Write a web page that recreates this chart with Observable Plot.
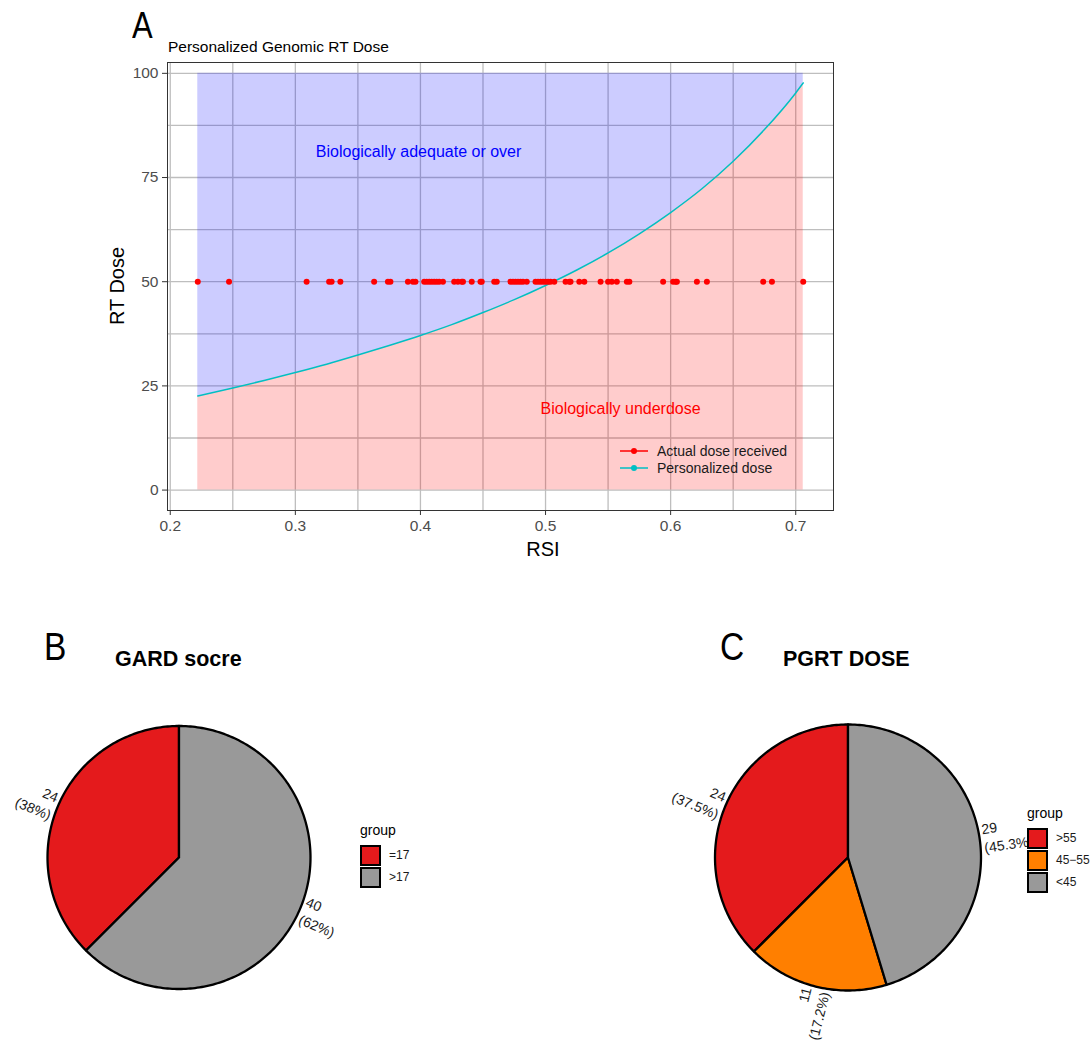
<!DOCTYPE html>
<html>
<head>
<meta charset="utf-8">
<script src="https://cdn.jsdelivr.net/npm/d3@7"></script>
<script src="https://cdn.jsdelivr.net/npm/@observablehq/plot@0.6"></script>
<style>
  html, body { margin: 0; padding: 0; background: #fff; }
  body { font-family: "Liberation Sans", Arial, Helvetica, sans-serif; }
  #wrap { position: relative; width: 1091px; height: 1042px; overflow: hidden; background: #fff; }
  #wrap > * { position: absolute; }
  .txt { white-space: nowrap; line-height: 1; color: #000; }
  .letter { font-size: 37px; transform-origin: 0 0; transform: scaleX(0.86); }
  .ptitle { font-size: 21.5px; font-weight: bold; }
  .legrow { display: flex; align-items: center; font-size: 14px; color: #1a1a1a; height: 17px; }
  .pieleg { background: #fff; }
  .pieleg .gt { font-size: 14px; color: #000; line-height: 1; }
  .pieleg .row { display: flex; align-items: center; height: 22px; font-size: 12px; color: #1a1a1a; }
  .pieleg .key { width: 17px; height: 17px; border: 2px solid #000; margin-right: 8px; }
</style>
</head>
<body>
<div id="wrap"></div>
<script>
// ---------------- data ----------------
// Panel A: RSI of each patient (all received 50 Gy)
const rsiPatients = [
  0.222, 0.247, 0.309, 0.327, 0.329, 0.336, 0.363, 0.374, 0.376, 0.390, 0.394, 0.396,
  0.403, 0.405, 0.407, 0.409, 0.411, 0.413, 0.415, 0.418,
  0.427, 0.430, 0.433, 0.434,
  0.441, 0.448, 0.449, 0.459, 0.461,
  0.472, 0.474, 0.476, 0.478, 0.480, 0.482, 0.485,
  0.492, 0.494, 0.496, 0.498, 0.500, 0.502, 0.504, 0.507,
  0.516, 0.519, 0.520, 0.527, 0.531,
  0.544, 0.550, 0.553, 0.557, 0.565, 0.567,
  0.594, 0.602, 0.604, 0.605, 0.621, 0.629,
  0.674, 0.681, 0.706
];
const actualDoseGy = 50;
// Personalized dose curve
const curveRsi  = [0.222, 0.25, 0.275, 0.3, 0.325, 0.35, 0.375, 0.4, 0.425, 0.45, 0.475, 0.5, 0.525, 0.55, 0.575, 0.6, 0.625, 0.65, 0.675, 0.7, 0.706];
const curveDose = [22.6, 24.5, 26.3, 28.2, 30.2, 32.4, 34.7, 37.1, 39.7, 42.6, 45.7, 49.1, 52.8, 56.9, 61.5, 66.6, 72.3, 78.9, 86.5, 95.3, 97.7];
const xTicks = [0.2, 0.3, 0.4, 0.5, 0.6, 0.7];
const xGrid  = [0.2, 0.25, 0.3, 0.35, 0.4, 0.45, 0.5, 0.55, 0.6, 0.65, 0.7];
const yTicks = [0, 25, 50, 75, 100];
const yGrid  = [0, 12.5, 25, 37.5, 50, 62.5, 75, 87.5, 100];
const legendA = ["Actual dose received", "Personalized dose"];

// Panel B: GARD score
const gardGroups = ["=17", ">17"];
const gardCounts = [24, 40];
const gardPcts   = ["38%", "62%"];
// Panel C: PGRT dose
const pgrtGroups = [">55", "45\u221255", "<45"];
const pgrtCounts = [24, 11, 29];
const pgrtPcts   = ["37.5%", "17.2%", "45.3%"];

// ---------------- colours ----------------
const cRed = "#FF0000", cBlue = "#0000FF", cCyan = "#00BFC4";
const gardColors = ["#E41A1C", "#999999"];
const pgrtColors = ["#E41A1C", "#FF7F00", "#999999"];

const wrap = document.getElementById("wrap");
const FONT = "Liberation Sans, Arial, Helvetica, sans-serif";

function addText(str, cls, left, baseline, size, extra = {}) {
  const d = document.createElement("div");
  d.className = "txt " + cls;
  d.textContent = str;
  d.style.left = left + "px";
  d.style.top = (baseline - 0.8465 * size) + "px";
  d.style.fontSize = size + "px";
  Object.assign(d.style, extra);
  wrap.appendChild(d);
  return d;
}

// ---------------- Panel A ----------------
const curveData = curveRsi.map((x, i) => ({rsi: x, dose: curveDose[i]}));
const plotA = Plot.plot({
  width: 1091, height: 560,
  marginLeft: 167, marginRight: 258, marginTop: 62, marginBottom: 50,
  style: {fontFamily: FONT, fontSize: "15.5px", color: "#4D4D4D", background: "transparent"},
  x: {domain: [0.1978, 0.7302]},
  y: {domain: [-4.9, 102.6]},
  marks: [
    Plot.ruleX(xGrid, {stroke: "#BEBEBE", strokeWidth: 1.3}),
    Plot.ruleY(yGrid, {stroke: "#BEBEBE", strokeWidth: 1.3}),
    Plot.areaY(curveData, {x: "rsi", y1: "dose", y2: 100, fill: cBlue, fillOpacity: 0.2, curve: "monotone-x"}),
    Plot.areaY(curveData, {x: "rsi", y1: 0, y2: "dose", fill: cRed, fillOpacity: 0.2, curve: "monotone-x"}),
    Plot.line(curveData, {x: "rsi", y: "dose", stroke: cCyan, strokeWidth: 1.5, curve: "monotone-x"}),
    Plot.dot(rsiPatients, {x: d => d, y: () => actualDoseGy, r: 3, fill: cRed, stroke: "none"}),
    Plot.text(["Biologically adequate or over"], {x: 0.3985, y: 81.2, text: d => d, fill: cBlue, fontSize: 16}),
    Plot.text(["Biologically underdose"], {x: 0.56, y: 19.6, text: d => d, fill: cRed, fontSize: 16}),
    Plot.frame({stroke: "#333333", strokeWidth: 1}),
    Plot.axisX(xTicks, {tickSize: 5, tickPadding: 4, tickFormat: d => d.toFixed(1), label: null, stroke: "#333333"}),
    Plot.axisY(yTicks, {tickSize: 5, tickPadding: 4, label: null, stroke: "#333333"})
  ]
});
plotA.style.left = "0px";
plotA.style.top = "0px";
wrap.appendChild(plotA);

addText("A", "letter", 132, 38, 36);
addText("Personalized Genomic RT Dose", "", 168, 52, 15.5);
const yl = addText("RT Dose", "", 0, 0, 20);
yl.style.top = "286px"; yl.style.left = "117px";
yl.style.transform = "translate(-50%, -50%) rotate(-90deg)";
const xl = addText("RSI", "", 543, 556, 20);
xl.style.transform = "translateX(-50%)";

// legend A
const legA = document.createElement("div");
legA.style.left = "618px"; legA.style.top = "442px";
legendA.forEach((lab, i) => {
  const col = i === 0 ? cRed : cCyan;
  const row = document.createElement("div");
  row.className = "legrow";
  row.innerHTML = `<svg width="34" height="12" style="margin-right:5px"><line x1="2" x2="30" y1="6" y2="6" stroke="${col}" stroke-width="1.5"/><circle cx="16" cy="6" r="3" fill="${col}"/></svg><span>${lab}</span>`;
  legA.appendChild(row);
});
wrap.appendChild(legA);

// ---------------- Pies ----------------
function pieSlices(groups, counts) {
  const total = d3.sum(counts);
  let acc = 0;
  return groups.map((g, i) => {
    const a0 = acc / total * 360; acc += counts[i];
    const a1 = acc / total * 360;
    return {group: g, count: counts[i], a0, a1};
  });
}
function slicePolygon(s) {
  const pts = [{x: 0, y: 0}];
  const n = Math.max(2, Math.ceil(s.a1 - s.a0));
  for (let k = 0; k <= n; k++) {
    const a = (s.a0 + (s.a1 - s.a0) * k / n) * Math.PI / 180;
    pts.push({x: -Math.sin(a), y: Math.cos(a)});
  }
  pts.push({x: 0, y: 0});
  return pts;
}
function piePlot({groups, counts, pcts, colors, width, height, cx, cy, radius}) {
  const slices = pieSlices(groups, counts);
  const labels = slices.map((s, i) => {
    const m = (s.a0 + s.a1) / 2;
    const a = m * Math.PI / 180;
    let rot = 90 - m, flip = false;
    if (rot < -90) { rot += 180; flip = true; }
    return {x: -1.025 * Math.sin(a), y: 1.025 * Math.cos(a), rot, flip, text: `${s.count}\n(${pcts[i]})`};
  });
  const marks = slices.map((s, i) => Plot.line(slicePolygon(s), {
    x: "x", y: "y", fill: colors[i], stroke: "#000", strokeWidth: 2.3, strokeLinejoin: "round", curve: "linear"
  }));
  const textOpts = {x: "x", y: "y", text: "text", rotate: "rot", fontSize: 14, fill: "#1A1A1A", lineHeight: 1.35, lineAnchor: "middle"};
  marks.push(Plot.text(labels.filter(d => !d.flip), {...textOpts, textAnchor: "end"}));
  marks.push(Plot.text(labels.filter(d => d.flip), {...textOpts, textAnchor: "start"}));
  return Plot.plot({
    width, height, margin: 0,
    style: {fontFamily: FONT, background: "transparent", overflow: "visible"},
    x: {domain: [-cx / radius, (width - cx) / radius], axis: null},
    y: {domain: [-(height - cy) / radius, cy / radius], axis: null},
    marks
  });
}

const pieB = piePlot({groups: gardGroups, counts: gardCounts, pcts: gardPcts, colors: gardColors,
  width: 360, height: 352, cx: 178.5, cy: 167, radius: 131.5});
pieB.style.left = "0px"; pieB.style.top = "690px";
wrap.appendChild(pieB);

const pieC = piePlot({groups: pgrtGroups, counts: pgrtCounts, pcts: pgrtPcts, colors: pgrtColors,
  width: 451, height: 352, cx: 207.5, cy: 167, radius: 133});
pieC.style.left = "640px"; pieC.style.top = "690px";
wrap.appendChild(pieC);

addText("B", "letter", 44, 660, 39);
addText("GARD socre", "ptitle", 115, 667, 21.5);
addText("C", "letter", 720, 660, 39);
addText("PGRT DOSE", "ptitle", 783, 667, 21.5);

function pieLegend(groups, colors, left, top) {
  const d = document.createElement("div");
  d.className = "pieleg";
  d.style.left = left + "px"; d.style.top = top + "px";
  let html = `<div class="gt" style="margin-bottom:7px">group</div>`;
  groups.forEach((g, i) => {
    html += `<div class="row"><div class="key" style="background:${colors[i]}"></div><span>${g}</span></div>`;
  });
  d.innerHTML = html;
  wrap.appendChild(d);
  return d;
}
const lb = pieLegend(gardGroups, gardColors, 360, 823);
const lc = pieLegend(pgrtGroups, pgrtColors, 1027, 806);
lc.style.paddingRight = "20px";
</script>
</body>
</html>
